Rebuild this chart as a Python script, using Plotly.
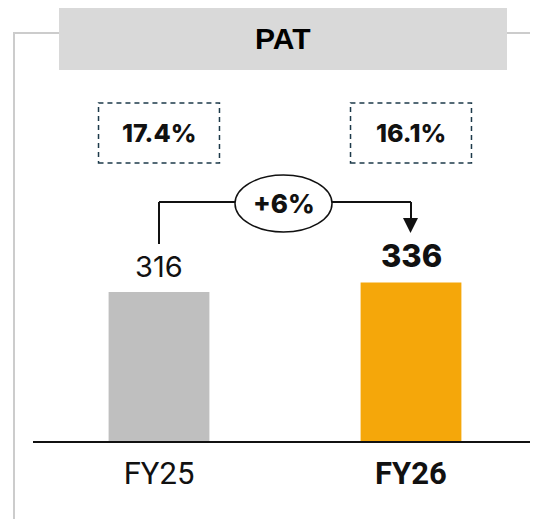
import plotly.graph_objects as go

# ---- data ----
categories = ["FY25", "FY26"]
tick_labels = ["FY25", "<b>FY26</b>"]
pat_values = [316, 336]
value_labels = ["316", "336"]
value_weights = [400, 800]
margins = ["17.4%", "16.1%"]
growth_label = "+6%"
title_text = "PAT"
bar_colors = ["#bfbfbf", "#f5a70a"]

OFF = 8            # page offset of the figure (body margin)
W, H = 538 - OFF, 519 - OFF
BASE = 442 - OFF   # figure pixel row of the baseline (plot bottom)
X0 = 159 - OFF     # figure pixel column of first category
DX = 252           # pixels between categories

def px(x):  # page pixel -> paper x
    return (x - OFF) / W

def py(y):  # page pixel -> paper y
    return (BASE - (y - OFF)) / BASE

FONT = "Inter, Roboto, sans-serif"

fig = go.Figure()
fig.add_trace(go.Bar(
    x=[0, 1], y=pat_values, width=0.40,
    marker=dict(color=bar_colors, line=dict(width=0)),
    hoverinfo="skip",
))

shapes = []
annotations = []

# outer grey frame
frame = dict(type="line", xref="paper", yref="paper", line=dict(color="#cccccc", width=2))
shapes.append(dict(frame, x0=px(14), x1=px(14), y0=py(33), y1=py(530)))
shapes.append(dict(frame, x0=px(13), x1=px(59), y0=py(33), y1=py(33)))
shapes.append(dict(frame, x0=px(507), x1=px(545), y0=py(33), y1=py(33)))

# title box
shapes.append(dict(type="rect", xref="paper", yref="paper",
                   x0=px(59), x1=px(507), y0=py(70), y1=py(8),
                   fillcolor="#d9d9d9", line=dict(width=0)))
annotations.append(dict(xref="paper", yref="paper", x=px(283), y=py(38),
                        xanchor="center", yanchor="middle",
                        text=f"<b>{title_text}</b>", showarrow=False,
                        font=dict(family="Liberation Sans, Arial", size=30, color="#000000")))

# baseline
shapes.append(dict(type="line", xref="paper", yref="paper", x0=px(33), x1=px(535),
                   y0=0, y1=0, line=dict(color="#111111", width=2)))

# margin boxes
for i, m in enumerate(margins):
    shapes.append(dict(type="rect", xref="x", yref="paper",
                       x0=i - 0.24, x1=i + 0.24, y0=py(163), y1=py(103),
                       line=dict(color="#1d3a4a", width=1.5, dash="5px,4px"),
                       fillcolor="rgba(0,0,0,0)"))
    annotations.append(dict(xref="x", yref="paper", x=i, y=py(133),
                            xanchor="center", yanchor="middle", text=m,
                            showarrow=False,
                            font=dict(family=FONT, size=25, weight=800, color="#111111")))

# value labels
sizes = [29, 31]
for i, (v, t) in enumerate(zip(pat_values, value_labels)):
    annotations.append(dict(xref="x", yref="y", x=i, y=v, xanchor="center",
                            yanchor="bottom", yshift=6,
                            text=t, showarrow=False,
                            font=dict(family=FONT, size=sizes[i], weight=value_weights[i],
                                      color="#111111")))

# growth connector
ln = dict(color="#111111", width=2)
shapes.append(dict(type="line", xref="x", yref="paper", x0=0, x1=0, y0=py(244), y1=py(202), line=ln))
shapes.append(dict(type="line", xref="x", yref="paper", x0=0, x1=1, y0=py(202), y1=py(202), line=ln))
shapes.append(dict(type="line", xref="x", yref="paper", x0=1, x1=1, y0=py(202), y1=py(220), line=ln))
# arrowhead
shapes.append(dict(type="path", xref="paper", yref="paper",
                   path=f"M {px(403)} {py(218)} L {px(418)} {py(218)} L {px(410.5)} {py(233)} Z",
                   fillcolor="#111111", line=dict(width=0)))
# ellipse
shapes.append(dict(type="circle", xref="paper", yref="paper",
                   x0=px(235), x1=px(332), y0=py(232), y1=py(175),
                   fillcolor="#ffffff", line=dict(color="#111111", width=1.5)))
annotations.append(dict(xref="paper", yref="paper", x=px(283.5), y=py(203),
                        xanchor="center", yanchor="middle",
                        text=growth_label, showarrow=False,
                        font=dict(family=FONT, size=26, weight=800, color="#111111")))

fig.update_layout(
    width=W, height=H,
    margin=dict(l=0, r=0, t=0, b=H - BASE),
    paper_bgcolor="#ffffff", plot_bgcolor="#ffffff",
    showlegend=False,
    shapes=shapes, annotations=annotations,
    xaxis=dict(range=[-X0 / DX, (W - X0) / DX], tickmode="array",
               tickvals=[0, 1], ticktext=tick_labels, showgrid=False, zeroline=False,
               showline=False, ticks="", ticklabelstandoff=10,
               tickfont=dict(family="Roboto", size=31, color="#111111")),
    yaxis=dict(range=[0, BASE / 0.475], visible=False, showgrid=False, zeroline=False),
)

fig.write_html("out.html")
